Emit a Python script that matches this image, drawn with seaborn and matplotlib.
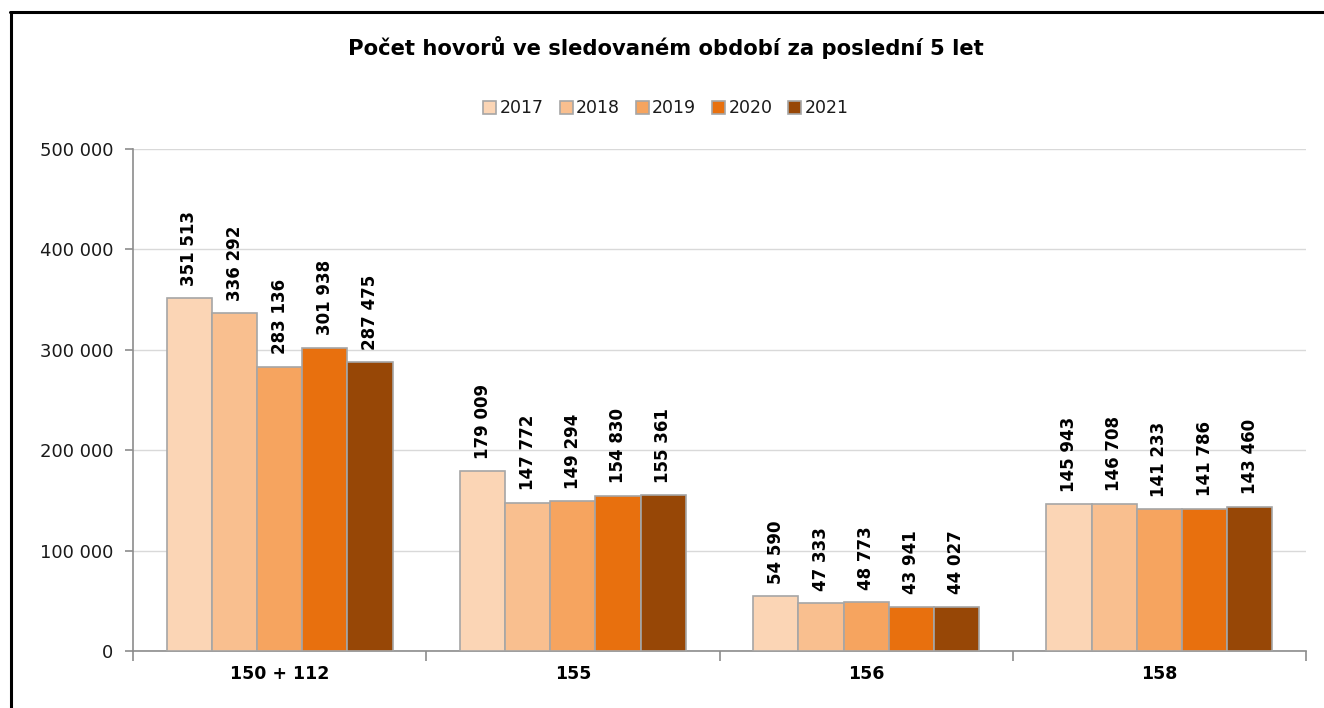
import matplotlib
matplotlib.use("Agg")
import matplotlib.pyplot as plt
from matplotlib.lines import Line2D
from matplotlib.patches import Patch
from matplotlib.ticker import FuncFormatter, FixedLocator
import seaborn as sns
import pandas as pd

categories = ["150 + 112", "155", "156", "158"]
years = ["2017", "2018", "2019", "2020", "2021"]
calls_2017 = [351513, 179009, 54590, 145943]
calls_2018 = [336292, 147772, 47333, 146708]
calls_2019 = [283136, 149294, 48773, 141233]
calls_2020 = [301938, 154830, 43941, 141786]
calls_2021 = [287475, 155361, 44027, 143460]
colors = ["#FBD5B5", "#F9BF8F", "#F6A45F", "#E8700E", "#974706"]

series = [calls_2017, calls_2018, calls_2019, calls_2020, calls_2021]
rows = []
for yr, vals in zip(years, series):
    for cat, v in zip(categories, vals):
        rows.append({"linka": cat, "rok": yr, "hovory": v})
df = pd.DataFrame(rows)

sns.set_theme(style="white")
plt.rcParams["font.family"] = ["DejaVu Sans"]
plt.rcParams["text.color"] = "black"

fig = plt.figure(figsize=(13.24, 7.08), dpi=100)
ax = fig.add_axes([0.1005, 0.0805, 0.8859, 0.709])

sns.barplot(data=df, x="linka", y="hovory", hue="rok", hue_order=years,
            palette=colors, width=0.77, edgecolor="#A6A6A6", linewidth=1.2,
            saturation=1, legend=False, ax=ax, zorder=3)

def fmt(v, _=None):
    return f"{int(v):,}".replace(",", " ")

for cont in ax.containers:
    for bar in cont:
        h = bar.get_height()
        ax.annotate(fmt(h), (bar.get_x() + bar.get_width() / 2, h),
                    xytext=(0, 9), textcoords="offset points",
                    rotation=90, ha="center", va="bottom",
                    fontsize=12, fontweight="bold", color="black")

ax.set_ylim(0, 500000)
ax.set_xlim(-0.5, len(categories) - 0.5)
ax.set_yticks(range(0, 500001, 100000))
ax.yaxis.set_major_formatter(FuncFormatter(fmt))
ax.yaxis.grid(True, color="#D9D9D9", linewidth=1, zorder=0)
ax.set_axisbelow(True)

for s in ["top", "right"]:
    ax.spines[s].set_visible(False)
for s in ["left", "bottom"]:
    ax.spines[s].set_color("#8C8C8C")
    ax.spines[s].set_linewidth(1.2)

ax.set_xlabel("")
ax.set_ylabel("")
ax.tick_params(axis="y", which="major", length=6, width=1.2, color="#8C8C8C",
               labelsize=13, pad=8, left=True, labelcolor="#1A1A1A")
ax.tick_params(axis="x", which="major", length=0, labelsize=12.5, pad=10,
               labelcolor="black")
for t in ax.get_xticklabels():
    t.set_fontweight("bold")
ax.xaxis.set_minor_locator(FixedLocator([i - 0.5 for i in range(len(categories) + 1)]))
ax.tick_params(axis="x", which="minor", length=7, width=1.2, color="#8C8C8C", bottom=True)

fig.text(0.503, 0.933, "Počet hovorů ve sledovaném období za poslední 5 let",
         ha="center", va="center", fontsize=15.2, fontweight="bold", color="black")

handles = [Patch(facecolor=c, edgecolor="#A6A6A6", linewidth=1.2, label=y)
           for c, y in zip(colors, years)]
leg = fig.legend(handles=handles, loc="center", bbox_to_anchor=(0.503, 0.847), ncol=5,
                 frameon=False, fontsize=12.5, handlelength=0.75, handleheight=0.75,
                 handletextpad=0.2, columnspacing=0.9)
for t in leg.get_texts():
    t.set_color("#1A1A1A")

# partial frame along the top and left edges
fig.add_artist(Line2D([0.0083, 0.0083], [0.0, 0.983], transform=fig.transFigure,
                      color="black", linewidth=2.2))
fig.add_artist(Line2D([0.0075, 1.0], [0.983, 0.983], transform=fig.transFigure,
                      color="black", linewidth=2.2))

fig.savefig("out.png", dpi=100, facecolor="white")
